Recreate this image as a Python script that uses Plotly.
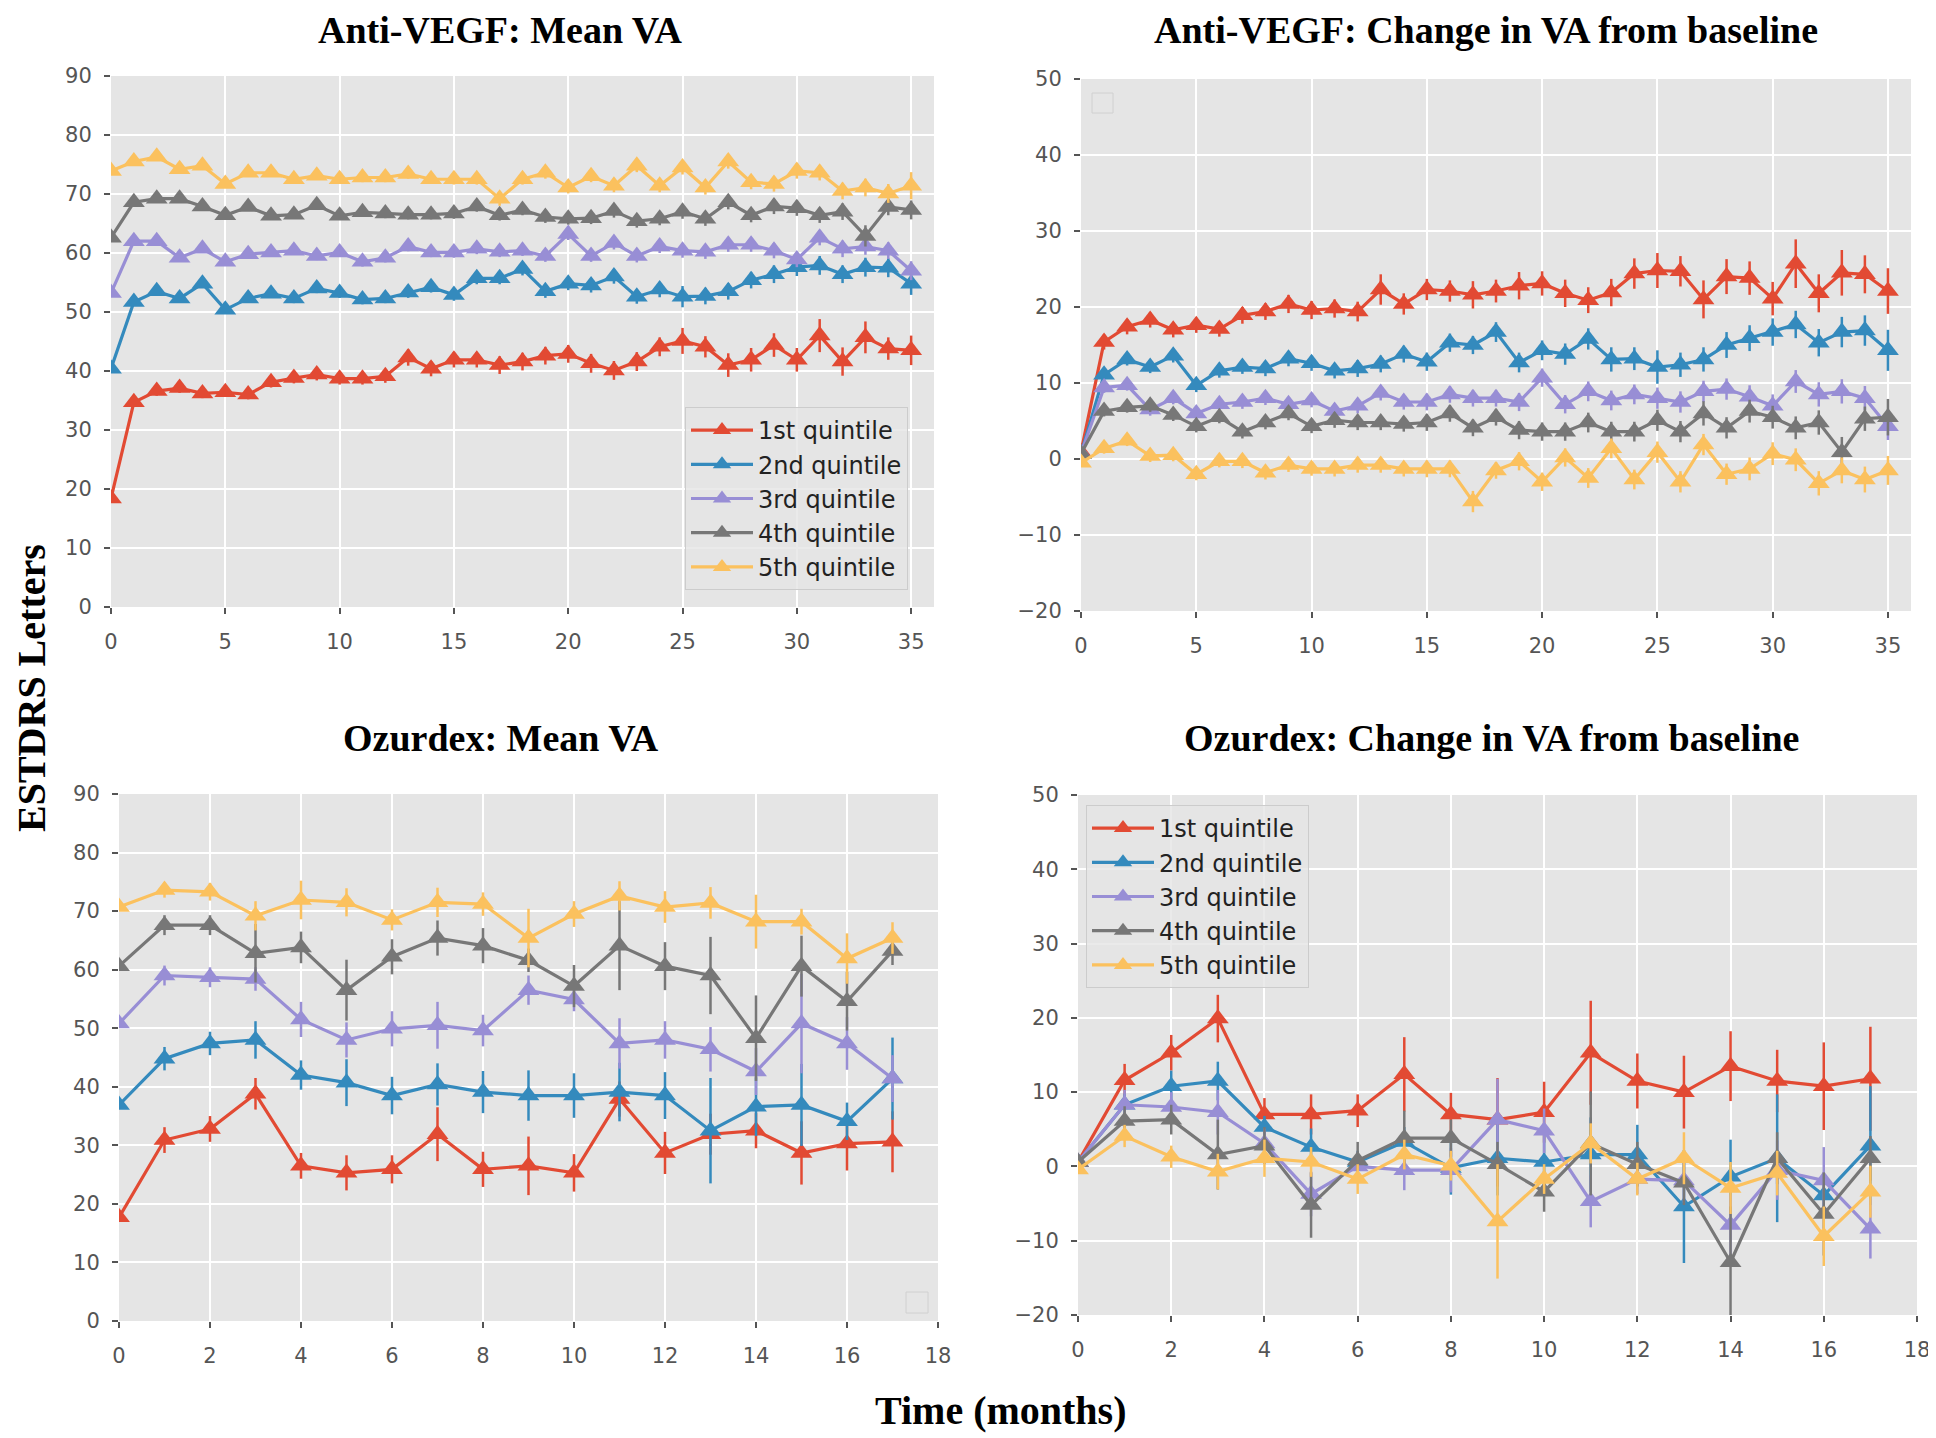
import plotly.graph_objects as go

# The page places the figure 8px from the top-left corner of the window,
# so the figure is 8px smaller than the window and all reference
# pixel positions are shifted by that offset.
OFF = 8
W, H = 1928, 1430

# ---------------- data ----------------
quintiles = ["1st quintile", "2nd quintile", "3rd quintile", "4th quintile", "5th quintile"]
colors = ["#E24A33", "#348ABD", "#988ED5", "#777777", "#FBC15E"]

months_antivegf = list(range(36))
months_ozurdex = list(range(18))

# Anti-VEGF: Mean VA
av_mean_q1 = [18.4, 34.7, 36.6, 37.1, 36.2, 36.4, 36.0, 38.1, 38.8, 39.4, 38.7, 38.7, 39.1, 42.3, 40.4, 41.9, 41.9, 41.0,
              41.6, 42.6, 42.9, 41.3, 40.1, 41.6, 44.1, 45.1, 44.1, 41.0, 41.9, 44.4, 41.9, 46.0, 41.6, 45.7, 43.8, 43.5]
av_mean_q2 = [40.4, 51.7, 53.5, 52.3, 54.8, 50.4, 52.3, 53.1, 52.3, 54.0, 53.2, 52.1, 52.3, 53.3, 54.2, 52.9, 55.7, 55.7,
              57.3, 53.5, 54.8, 54.5, 56.0, 52.6, 53.8, 52.6, 52.7, 53.5, 55.4, 56.4, 57.6, 57.9, 56.4, 57.6, 57.5, 54.8]
av_mean_q3 = [53.2, 62.0, 62.0, 59.2, 60.7, 58.5, 59.8, 60.1, 60.4, 59.5, 60.1, 58.5, 59.2, 61.1, 60.1, 60.1, 60.7, 60.2,
              60.4, 59.5, 63.2, 59.5, 61.7, 59.5, 61.1, 60.4, 60.2, 61.4, 61.4, 60.4, 58.9, 62.6, 60.7, 61.1, 60.4, 57.0]
av_mean_q4 = [62.6, 68.6, 69.2, 69.2, 67.9, 66.4, 67.8, 66.3, 66.5, 68.1, 66.3, 66.9, 66.7, 66.5, 66.5, 66.7, 67.9, 66.4,
              67.3, 66.1, 65.8, 65.9, 67.1, 65.4, 65.8, 67.0, 65.8, 68.6, 66.4, 67.9, 67.6, 66.4, 67.0, 62.9, 67.8, 67.3]
av_mean_q5 = [73.9, 75.5, 76.3, 74.2, 74.8, 71.7, 73.6, 73.6, 72.5, 73.1, 72.5, 72.8, 72.8, 73.4, 72.5, 72.5, 72.5, 69.2,
              72.5, 73.6, 71.1, 73.0, 71.4, 74.8, 71.4, 74.5, 71.1, 75.5, 72.0, 71.7, 73.9, 73.6, 70.5, 71.1, 70.1, 71.4]
av_mean_err_q1 = [0.4, 0.8, 0.8, 0.8, 0.8, 0.8, 0.8, 0.9, 0.9, 1.0, 1.0, 1.0, 1.1, 1.4, 1.3, 1.3, 1.3, 1.5,
                  1.5, 1.5, 1.5, 1.6, 1.6, 1.6, 1.6, 2.2, 1.8, 2.0, 2.0, 2.0, 2.0, 2.8, 2.4, 2.7, 1.9, 2.5]
av_mean_err_q2 = [0.4, 0.6, 0.6, 0.6, 0.7, 0.7, 0.7, 0.7, 0.8, 0.8, 0.8, 0.8, 0.8, 0.9, 0.9, 1.0, 1.0, 1.0,
                  1.1, 1.1, 1.1, 1.2, 1.2, 1.2, 1.3, 1.8, 1.4, 1.4, 1.4, 1.5, 1.5, 1.6, 1.5, 1.6, 1.6, 1.9]
av_mean_err_q3 = [0.4, 0.5, 0.5, 0.6, 0.6, 0.6, 0.6, 0.7, 0.7, 0.7, 0.7, 0.8, 0.8, 0.8, 0.8, 0.9, 0.9, 0.9,
                  0.9, 1.0, 1.0, 1.0, 1.1, 1.1, 1.1, 1.2, 1.2, 1.2, 1.2, 1.3, 1.3, 1.3, 1.4, 1.4, 1.4, 1.6]
av_mean_err_q4 = [0.4, 0.5, 0.5, 0.6, 0.6, 0.6, 0.6, 0.7, 0.7, 0.7, 0.7, 0.8, 0.8, 0.8, 0.8, 0.9, 0.9, 0.9,
                  0.9, 1.0, 1.0, 1.0, 1.1, 1.1, 1.1, 1.2, 1.2, 1.2, 1.2, 1.3, 1.3, 1.3, 1.4, 1.8, 1.4, 1.6]
av_mean_err_q5 = [0.4, 0.5, 0.5, 0.6, 0.6, 0.6, 0.6, 0.7, 0.7, 0.7, 0.7, 0.8, 0.8, 0.8, 0.8, 0.9, 0.9, 1.2,
                  0.9, 1.0, 1.0, 1.0, 1.1, 1.1, 1.1, 1.2, 1.2, 1.2, 1.2, 1.3, 1.3, 1.3, 1.4, 1.5, 1.6, 2.3]

# Anti-VEGF: Change in VA from baseline
av_chg_q1 = [0.9, 15.4, 17.4, 18.3, 17.0, 17.6, 17.1, 18.9, 19.4, 20.4, 19.6, 19.8, 19.4, 22.3, 20.4, 22.3, 22.1, 21.6,
             22.1, 22.8, 23.1, 21.8, 20.9, 21.9, 24.4, 24.8, 24.7, 21.0, 24.0, 23.8, 21.1, 25.7, 21.8, 24.5, 24.3, 22.1]
av_chg_q2 = [0.7, 11.1, 13.1, 12.1, 13.6, 9.7, 11.6, 12.1, 11.9, 13.2, 12.6, 11.6, 11.9, 12.5, 13.8, 12.8, 15.3, 15.0,
             16.7, 12.7, 14.3, 13.8, 15.8, 13.1, 13.2, 12.1, 12.4, 13.1, 15.0, 15.9, 16.7, 17.7, 15.3, 16.7, 16.9, 14.3]
av_chg_q3 = [0.7, 9.4, 9.7, 6.5, 8.0, 6.0, 7.2, 7.5, 8.0, 7.2, 7.7, 6.3, 7.0, 8.7, 7.5, 7.5, 8.5, 8.0,
             8.0, 7.5, 10.7, 7.2, 8.9, 7.7, 8.5, 8.0, 7.5, 8.9, 9.2, 8.2, 7.0, 10.2, 8.5, 8.9, 8.0, 4.3]
av_chg_q4 = [0.7, 6.3, 6.8, 7.0, 5.8, 4.3, 5.5, 3.6, 4.8, 6.0, 4.3, 5.1, 4.8, 4.8, 4.6, 4.8, 6.0, 4.1,
             5.5, 3.8, 3.6, 3.6, 4.8, 3.6, 3.6, 5.1, 3.6, 6.0, 4.1, 6.3, 5.5, 4.1, 4.8, 0.9, 5.3, 5.5]
av_chg_q5 = [-0.5, 1.4, 2.4, 0.4, 0.5, -2.0, -0.3, -0.3, -1.8, -0.8, -1.3, -1.3, -0.8, -0.8, -1.3, -1.3, -1.3, -5.6,
             -1.5, -0.3, -3.0, 0.2, -2.5, 1.4, -2.7, 0.9, -3.0, 1.9, -2.0, -1.3, 0.7, -0.1, -3.2, -1.5, -2.7, -1.5]
av_chg_err_q1 = [0.3, 1.0, 1.0, 1.0, 1.0, 1.0, 1.0, 1.1, 1.1, 1.2, 1.2, 1.2, 1.3, 2.0, 1.4, 1.4, 1.4, 1.8,
                 1.5, 1.8, 1.6, 1.8, 1.7, 1.8, 2.0, 2.3, 2.0, 2.5, 2.3, 2.2, 2.2, 3.2, 2.5, 3.0, 2.5, 3.0]
av_chg_err_q2 = [0.3, 0.8, 0.8, 0.8, 0.9, 0.9, 0.9, 0.9, 1.0, 1.0, 1.0, 1.0, 1.1, 1.1, 1.1, 1.2, 1.2, 1.2,
                 1.3, 1.3, 1.3, 1.4, 1.4, 1.6, 1.5, 2.2, 1.6, 1.6, 1.7, 1.7, 1.8, 1.8, 1.8, 2.0, 2.0, 2.7]
av_chg_err_q3 = [0.3, 0.7, 0.7, 0.8, 0.8, 0.8, 0.8, 0.9, 0.9, 0.9, 0.9, 1.0, 1.0, 1.0, 1.0, 1.1, 1.1, 1.1,
                 1.1, 1.2, 1.2, 1.2, 1.3, 1.3, 1.3, 1.4, 1.4, 1.4, 1.4, 1.5, 1.5, 1.5, 1.6, 1.6, 1.6, 1.8]
av_chg_err_q4 = [0.3, 0.7, 0.7, 0.8, 0.8, 0.8, 0.8, 0.9, 0.9, 0.9, 0.9, 1.0, 1.0, 1.0, 1.0, 1.1, 1.1, 1.1,
                 1.1, 1.2, 1.2, 1.2, 1.3, 1.3, 1.3, 1.4, 1.4, 1.6, 1.4, 1.5, 1.5, 1.5, 1.6, 2.0, 1.6, 2.4]
av_chg_err_q5 = [0.3, 0.7, 0.7, 0.8, 0.8, 0.8, 0.8, 0.9, 0.9, 0.9, 0.9, 1.0, 1.0, 1.0, 1.0, 1.1, 1.1, 1.4,
                 1.1, 1.2, 1.2, 1.2, 1.3, 1.3, 1.3, 1.4, 1.4, 1.4, 1.4, 1.5, 1.5, 1.5, 1.6, 1.7, 1.7, 1.9]

# Ozurdex: Mean VA
oz_mean_q1 = [17.7, 30.9, 32.8, 38.8, 26.5, 25.3, 25.9, 31.9, 25.9, 26.5, 25.3, 37.9, 28.7, 31.9, 32.5, 28.7, 30.3, 30.6]
oz_mean_q2 = [36.9, 44.8, 47.4, 48.0, 42.0, 40.7, 38.5, 40.4, 39.1, 38.5, 38.5, 39.1, 38.5, 32.5, 36.6, 36.9, 34.1, 41.4]
oz_mean_q3 = [50.8, 59.0, 58.7, 58.4, 51.5, 48.0, 49.9, 50.5, 49.6, 56.5, 54.9, 47.4, 48.0, 46.4, 42.6, 50.8, 47.4, 41.4]
oz_mean_q4 = [60.6, 67.6, 67.6, 62.8, 63.8, 56.5, 62.2, 65.4, 64.1, 61.6, 57.2, 64.1, 60.6, 59.0, 48.3, 60.6, 54.6, 63.2]
oz_mean_q5 = [70.7, 73.6, 73.3, 69.2, 71.9, 71.5, 68.5, 71.5, 71.2, 65.4, 69.5, 72.6, 70.7, 71.4, 68.2, 68.2, 61.9, 65.4]
oz_mean_err_q1 = [0.5, 2.2, 2.2, 2.7, 2.2, 3.0, 2.4, 4.6, 3.0, 5.0, 3.2, 3.0, 3.6, 3.5, 3.0, 5.4, 4.6, 5.2]
oz_mean_err_q2 = [0.5, 2.0, 2.0, 3.2, 2.5, 4.0, 3.2, 3.6, 3.6, 4.3, 3.8, 5.0, 4.0, 9.0, 5.0, 7.0, 3.2, 7.0]
oz_mean_err_q3 = [0.5, 1.7, 1.7, 2.0, 3.0, 3.0, 3.0, 4.0, 2.7, 2.5, 2.0, 4.3, 3.2, 3.8, 4.0, 8.5, 4.5, 4.0]
oz_mean_err_q4 = [0.5, 1.7, 1.7, 5.0, 2.7, 5.2, 3.0, 3.0, 3.0, 2.0, 3.6, 7.6, 4.1, 6.6, 7.3, 5.2, 5.0, 2.4]
oz_mean_err_q5 = [0.5, 1.3, 1.5, 2.5, 3.3, 2.4, 1.8, 2.5, 2.0, 5.0, 2.2, 2.5, 2.7, 2.7, 4.6, 2.2, 4.3, 2.7]

# Ozurdex: Change in VA from baseline
oz_chg_q1 = [0.6, 11.6, 15.3, 19.9, 7.0, 7.0, 7.5, 12.4, 7.0, 6.3, 7.3, 15.3, 11.5, 10.0, 13.5, 11.5, 10.8, 11.8]
oz_chg_q2 = [0.6, 8.3, 10.8, 11.5, 5.3, 2.6, 0.6, 3.3, -0.2, 1.1, 0.6, 1.6, 1.6, -5.4, -1.4, 1.1, -3.9, 2.8]
oz_chg_q3 = [0.6, 8.3, 8.0, 7.3, 3.1, -3.7, 0.0, -0.5, -0.5, 6.3, 4.8, -4.7, -1.7, -1.9, -7.9, -0.5, -1.9, -8.4]
oz_chg_q4 = [0.6, 6.1, 6.3, 1.6, 2.8, -5.2, 0.8, 3.8, 3.8, 0.3, -3.4, 3.1, 0.3, -2.2, -12.9, 1.1, -6.4, 1.1]
oz_chg_q5 = [-0.4, 4.1, 1.3, -0.7, 1.1, 0.6, -1.7, 1.6, 0.1, -7.4, -1.7, 3.1, -1.7, 1.1, -2.9, -0.9, -9.4, -3.4]
oz_chg_err_q1 = [0.3, 2.2, 2.4, 3.2, 2.2, 2.7, 2.2, 5.0, 2.9, 5.6, 4.1, 7.0, 3.7, 4.9, 4.7, 4.2, 5.9, 7.0]
oz_chg_err_q2 = [0.3, 1.5, 2.1, 2.6, 1.5, 2.5, 1.5, 2.0, 3.6, 5.0, 4.0, 5.0, 4.0, 7.6, 5.0, 8.6, 2.5, 8.0]
oz_chg_err_q3 = [0.3, 2.0, 2.0, 3.0, 2.0, 3.0, 2.0, 2.7, 3.0, 5.5, 3.0, 3.5, 2.0, 3.0, 4.0, 4.0, 4.5, 4.0]
oz_chg_err_q4 = [0.3, 2.0, 2.0, 4.7, 2.5, 4.4, 2.5, 3.7, 2.5, 3.0, 2.7, 7.0, 3.0, 3.0, 7.5, 3.5, 5.6, 3.0]
oz_chg_err_q5 = [0.3, 1.5, 1.5, 2.4, 2.5, 2.0, 2.0, 2.0, 2.0, 7.7, 2.0, 2.7, 2.2, 3.5, 3.5, 3.0, 4.0, 3.5]

panel_titles = ["Anti-VEGF: Mean VA", "Anti-VEGF: Change in VA from baseline",
                "Ozurdex: Mean VA", "Ozurdex: Change in VA from baseline"]
y_title = "ESTDRS Letters"
x_title = "Time (months)"

panels = [
    (months_antivegf, [av_mean_q1, av_mean_q2, av_mean_q3, av_mean_q4, av_mean_q5],
     [av_mean_err_q1, av_mean_err_q2, av_mean_err_q3, av_mean_err_q4, av_mean_err_q5]),
    (months_antivegf, [av_chg_q1, av_chg_q2, av_chg_q3, av_chg_q4, av_chg_q5],
     [av_chg_err_q1, av_chg_err_q2, av_chg_err_q3, av_chg_err_q4, av_chg_err_q5]),
    (months_ozurdex, [oz_mean_q1, oz_mean_q2, oz_mean_q3, oz_mean_q4, oz_mean_q5],
     [oz_mean_err_q1, oz_mean_err_q2, oz_mean_err_q3, oz_mean_err_q4, oz_mean_err_q5]),
    (months_ozurdex, [oz_chg_q1, oz_chg_q2, oz_chg_q3, oz_chg_q4, oz_chg_q5],
     [oz_chg_err_q1, oz_chg_err_q2, oz_chg_err_q3, oz_chg_err_q4, oz_chg_err_q5]),
]


def px(x):
    return (x - OFF) / W


def py(y):
    return 1 - (y - OFF) / H


# ---------------- layout geometry (window pixels) ----------------
boxes = [  # x0, x1, y0(top), y1(bottom)
    (111, 934, 76, 607),
    (1081, 1911, 79, 611),
    (119, 938, 794, 1321),
    (1078, 1917, 795, 1315),
]
x_ranges = [[0, 36], [0, 36], [0, 18], [0, 18]]
x_dticks = [5, 5, 2, 2]
y_ranges = [[0, 90], [-20, 50], [0, 90], [-20, 50]]
legend_for_panel = {0: "legend", 3: "legend2"}

fig = go.Figure()

for p, (xs, series, errs) in enumerate(panels):
    ax = "" if p == 0 else str(p + 1)
    for i in range(5):
        fig.add_trace(go.Scatter(
            x=xs, y=series[i], name=quintiles[i],
            mode="lines+markers",
            line=dict(color=colors[i], width=3.2),
            marker=dict(symbol="triangle-up", size=19, color=colors[i], line=dict(width=0)),
            error_y=dict(type="data", array=errs[i], visible=True, color=colors[i], thickness=2.5, width=0),
            xaxis="x" + ax, yaxis="y" + ax,
            showlegend=p in legend_for_panel,
            legend=legend_for_panel.get(p, "legend"),
        ))

tickfont = dict(family="DejaVu Sans", size=21, color="#555555")
layout = dict(
    width=W, height=H, margin=dict(l=0, r=0, t=0, b=0, pad=0, autoexpand=False),
    paper_bgcolor="white", plot_bgcolor="#E5E5E5",
    showlegend=True,
)
for p, (x0, x1, y0, y1) in enumerate(boxes):
    ax = "" if p == 0 else str(p + 1)
    layout["xaxis" + ax] = dict(
        domain=[px(x0), px(x1)], range=x_ranges[p], dtick=x_dticks[p], tick0=0,
        anchor="y" + ax, showgrid=True, gridcolor="white", gridwidth=2, zeroline=False,
        ticks="outside", ticklen=6, tickwidth=1.5, tickcolor="#555555",
        tickfont=tickfont, ticklabelstandoff=10, showline=False, automargin=False,
    )
    layout["yaxis" + ax] = dict(
        domain=[py(y1), py(y0)], range=y_ranges[p], dtick=10,
        anchor="x" + ax, showgrid=True, gridcolor="white", gridwidth=2, zeroline=False,
        ticks="outside", ticklen=6, tickwidth=1.5, tickcolor="#555555",
        tickfont=tickfont, ticklabelstandoff=8, showline=False, automargin=False,
    )

legend_style = dict(
    bgcolor="rgba(229,229,229,0.8)", bordercolor="#CCCCCC", borderwidth=1,
    font=dict(family="DejaVu Sans", size=24, color="#222222"),
    xanchor="left", yanchor="top", itemclick=False, tracegroupgap=0, itemwidth=62,
)
layout["legend"] = dict(legend_style, x=px(685), y=py(407))
layout["legend2"] = dict(legend_style, x=px(1086), y=py(805))

fig.update_layout(**layout)

# panel titles
title_pos = [(500, 30), (1486, 30), (501, 738), (1491, 738)]
for t, (cx, cy) in zip(panel_titles, title_pos):
    fig.add_annotation(text="<b>" + t + "</b>", x=px(cx), y=py(cy), xref="paper", yref="paper",
                       showarrow=False, xanchor="center", yanchor="middle",
                       font=dict(family="Liberation Serif", size=38, color="black"))

fig.add_annotation(text="<b>" + y_title + "</b>", x=px(31), y=py(688), xref="paper", yref="paper",
                   showarrow=False, textangle=-90, xanchor="center", yanchor="middle",
                   font=dict(family="Liberation Serif", size=40, color="black"))
fig.add_annotation(text="<b>" + x_title + "</b>", x=px(1001), y=py(1410), xref="paper", yref="paper",
                   showarrow=False, xanchor="center", yanchor="middle",
                   font=dict(family="Liberation Serif", size=40, color="black"))

# empty legend boxes (as in the original figure)
for (bx0, by0, bx1, by1) in [(1092, 93, 1113, 113), (906, 1292, 928, 1313)]:
    fig.add_shape(type="rect", xref="paper", yref="paper",
                  x0=px(bx0), x1=px(bx1), y0=py(by1), y1=py(by0),
                  line=dict(color="#D0D0D0", width=1), fillcolor="rgba(229,229,229,0.8)")

fig.write_html("out.html")
